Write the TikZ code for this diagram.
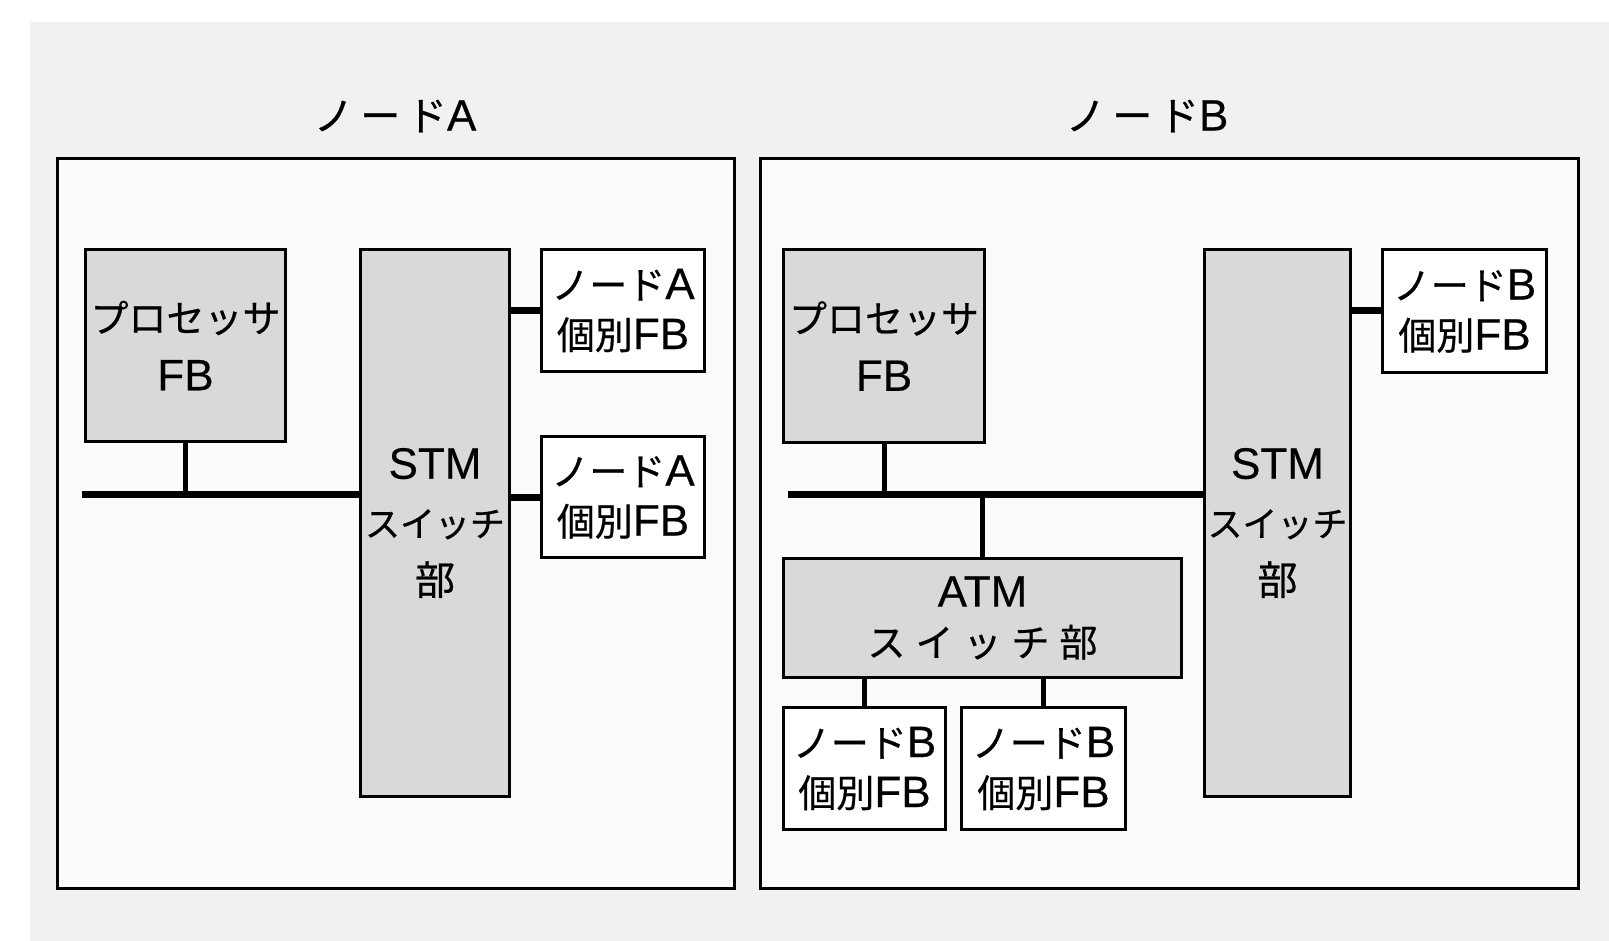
\documentclass[tikz,border=0pt]{standalone}
\usepackage{fontspec}
\newfontfamily\jp[FakeBold=0.6]{Noto Sans CJK JP}
\newfontfamily\lat[FakeBold=0.4]{Liberation Sans}
\newcommand\latn[1]{{\lat\fontsize{44}{\baselineskip}\selectfont #1}}
\newcommand\gp{\hspace{10pt}}
\definecolor{pagebg}{HTML}{F1F1F1}
\definecolor{panelbg}{HTML}{FBFBFB}
\definecolor{boxgray}{HTML}{D9D9D9}
\begin{document}
\begin{tikzpicture}[x=1pt,y=-1pt,
  panel/.style={draw=black,line width=3pt,fill=panelbg,anchor=north west,inner sep=0pt},
  graybox/.style={draw=black,line width=3pt,fill=boxgray,anchor=north west,inner sep=0pt,align=center},
  whitebox/.style={draw=black,line width=3pt,fill=white,anchor=north west,inner sep=0pt,align=center},
  txt/.style={font=\jp\fontsize{38}{58}\selectfont},
  txtn/.style={font=\jp\fontsize{35}{58}\selectfont},
  txts/.style={font=\jp\fontsize{38}{50}\selectfont},
  title/.style={font=\jp\fontsize{40}{48}\selectfont},
  bus/.style={line width=7pt},
  link/.style={line width=5pt},
  stub/.style={line width=7pt}]
\useasboundingbox (0,0) rectangle (1609,941);
\fill[white] (0,0) rectangle (1609,941);
\fill[pagebg] (30,22) rectangle (1609,941);
% panels
\node[panel,minimum width=677pt,minimum height=730pt] (pA) at (56,157) {};
\node[panel,minimum width=818pt,minimum height=730pt] (pB) at (759,157) {};
\node[title] (tA) at (395,116) {ノ\,ー\,ド\latn{A}};
\node[title] (tB) at (1147,116) {ノ\,ー\,ド\latn{B}};
% node A
\node[graybox,txt,minimum width=200pt,minimum height=192pt] (procA) at (84,248) {プロセッサ\\\latn{FB}};
\node[graybox,txtn,minimum width=149pt,minimum height=547pt] (stmA) at (359,248) {\latn{STM}\\スイッチ\\{\fontsize{40}{58}\selectfont 部}};
\node[whitebox,txts,minimum width=163pt,minimum height=122pt] (fbA1) at (540,248) {ノード\latn{A}\\個別\latn{FB}};
\node[whitebox,txts,minimum width=163pt,minimum height=121pt] (fbA2) at (540,435) {ノード\latn{A}\\個別\latn{FB}};
\coordinate (busA) at (82,494);
\draw[bus] (busA) -- (stmA.west |- busA);
\draw[link] (procA.south) -- (procA.south |- busA);
\draw[stub] (stmA.east |- fbA1.west) -- (fbA1.west);
\draw[stub] (stmA.east |- fbA2.west) -- (fbA2.west);
% node B
\node[graybox,txt,minimum width=201pt,minimum height=193pt] (procB) at (782,248) {プロセッサ\\\latn{FB}};
\node[graybox,txtn,minimum width=146pt,minimum height=547pt] (stmB) at (1203,248) {\latn{STM}\\スイッチ\\{\fontsize{40}{58}\selectfont 部}};
\node[whitebox,txts,minimum width=164pt,minimum height=123pt] (fbB0) at (1381,248) {ノード\latn{B}\\個別\latn{FB}};
\node[graybox,txts,minimum width=398pt,minimum height=119pt] (atm) at (782,557) {\latn{ATM}\\ス\gp イ\gp ッ\gp チ\gp 部};
\node[whitebox,txts,minimum width=162pt,minimum height=122pt] (fbB1) at (782,706) {ノード\latn{B}\\個別\latn{FB}};
\node[whitebox,txts,minimum width=164pt,minimum height=122pt] (fbB2) at (960,706) {ノード\latn{B}\\個別\latn{FB}};
\coordinate (busB) at (788,494);
\draw[bus] (busB) -- (stmB.west |- busB);
\draw[link] (procB.south) -- (procB.south |- busB);
\draw[link] (atm.north) -- (atm.north |- busB);
\draw[stub] (stmB.east |- fbB0.west) -- (fbB0.west);
\draw[link] (fbB1.north |- atm.south) -- (fbB1.north);
\draw[link] (fbB2.north |- atm.south) -- (fbB2.north);
\end{tikzpicture}
\end{document}
